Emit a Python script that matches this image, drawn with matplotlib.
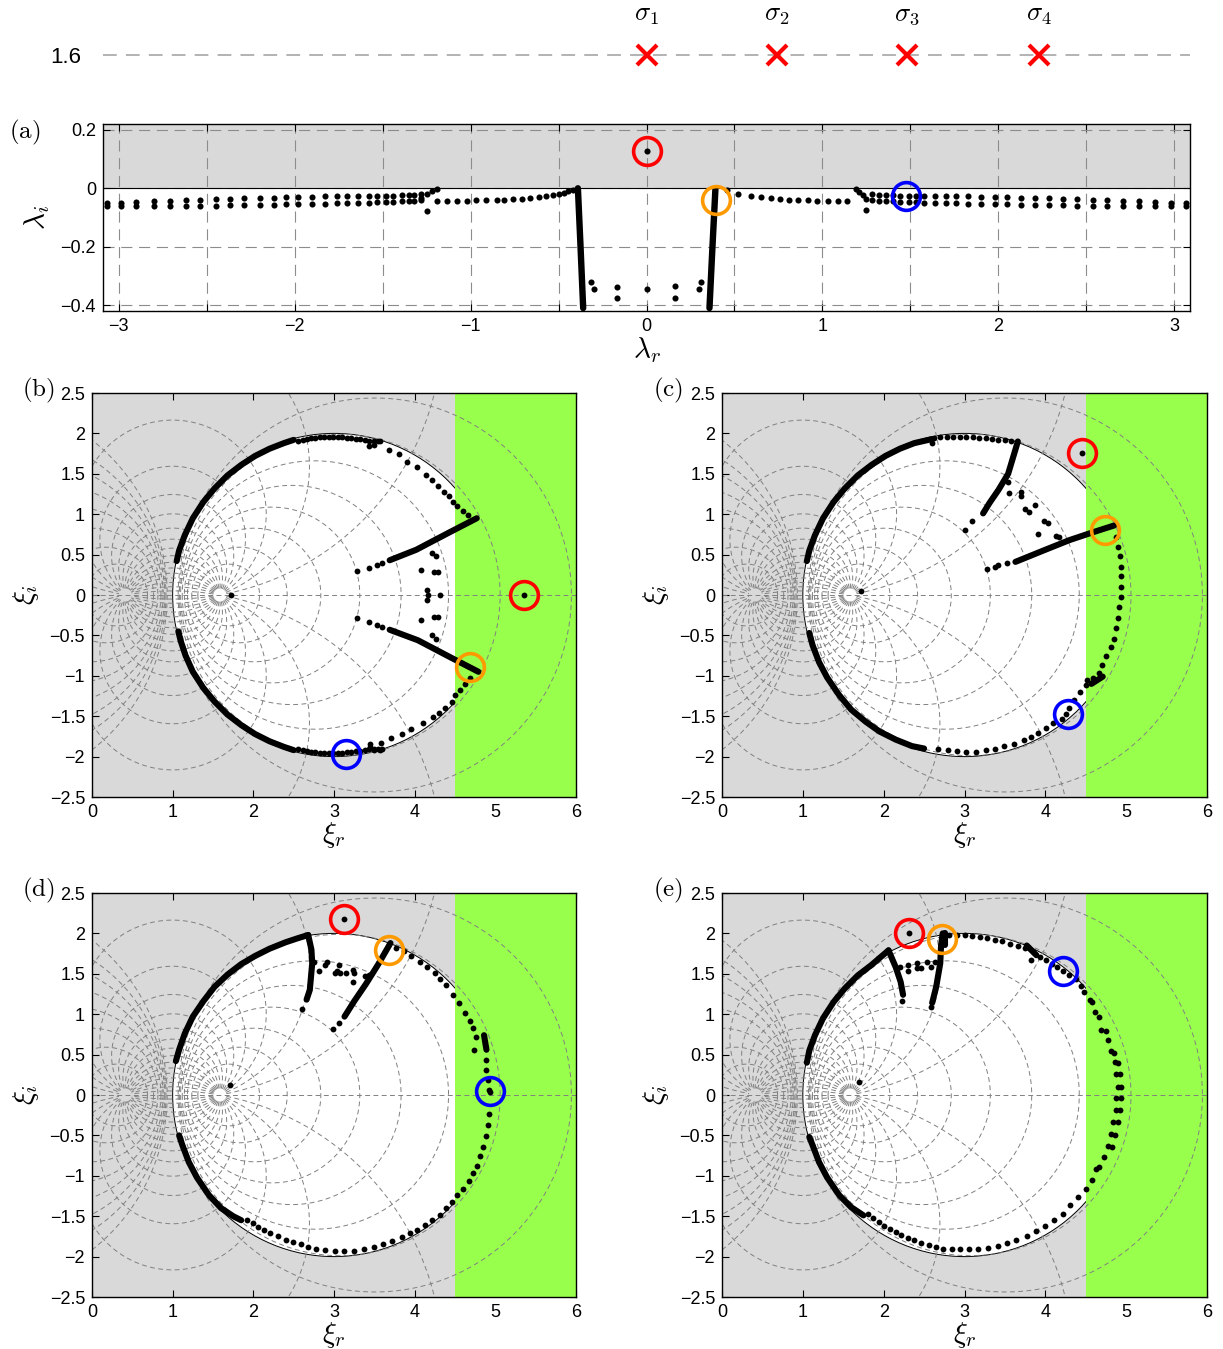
import numpy as np
import matplotlib
matplotlib.use("Agg")
import matplotlib.pyplot as plt
from matplotlib.patches import Circle, Rectangle

plt.rcParams['mathtext.fontset'] = 'cm'
plt.rcParams['font.family'] = ['Liberation Sans', 'DejaVu Sans']

# ---------------- data ----------------
sigma_r = [0.0, 0.74, 1.48, 2.23]
sigma_names = [r'$\sigma_1$', r'$\sigma_2$', r'$\sigma_3$', r'$\sigma_4$']
sigma_level = 1.6

# panel (a): spectrum lambda = lambda_r + i lambda_i
a_cols_left = [-3.07, -2.99, -2.90, -2.80, -2.71, -2.62, -2.54, -2.45, -2.37, -2.29, -2.20, -2.12, -2.05, -1.98,
               -1.90, -1.83, -1.76, -1.70, -1.64, -1.58, -1.53, -1.48, -1.44, -1.39, -1.35, -1.32, -1.28]
a_cols_right = [3.07, 2.98, 2.89, 2.80, 2.71, 2.62, 2.54, 2.45, 2.37, 2.29, 2.21, 2.13, 2.05, 1.98,
                1.90, 1.83, 1.76, 1.70, 1.64, 1.58, 1.53, 1.49, 1.44, 1.40, 1.36, 1.32, 1.28]
a_upper = [-0.050, -0.049, -0.047, -0.045, -0.043, -0.041, -0.039, -0.037, -0.035, -0.034, -0.033, -0.032, -0.031,
           -0.030, -0.029, -0.028, -0.028, -0.027, -0.027, -0.026, -0.026, -0.025, -0.025, -0.024, -0.023, -0.022, -0.020]
a_lower = [-0.060, -0.061, -0.061, -0.061, -0.061, -0.060, -0.060, -0.059, -0.058, -0.057, -0.057, -0.056, -0.055,
           -0.055, -0.054, -0.053, -0.052, -0.051, -0.050, -0.049, -0.048, -0.047, -0.046, -0.045, -0.044, -0.042, -0.040]
a_single = [(-1.19, -0.044), (-1.135, -0.044), (-1.08, -0.044), (-1.02, -0.042), (-0.97, -0.041), (-0.91, -0.041),
            (-0.85, -0.040), (-0.81, -0.039), (-0.76, -0.038), (-0.71, -0.036), (-0.66, -0.033), (-0.61, -0.030),
            (-0.57, -0.026), (-0.53, -0.023), (-0.50, -0.020), (-0.47, -0.016), (-0.445, -0.011), (-0.42, -0.007),
            (0.46, -0.007), (0.52, -0.020), (0.595, -0.026), (0.65, -0.029), (0.71, -0.033), (0.76, -0.037),
            (0.81, -0.039), (0.86, -0.040), (0.92, -0.041), (0.97, -0.042), (1.03, -0.043), (1.09, -0.044),
            (1.14, -0.043),
            (-1.28, -0.034), (-1.25, -0.020), (-1.22, -0.010), (-1.19, -0.001), (-1.25, -0.078),
            (1.19, -0.001), (1.21, -0.012), (1.23, -0.024), (1.25, -0.036), (1.25, -0.075),
            (-0.315, -0.322), (-0.30, -0.345), (-0.165, -0.338), (-0.165, -0.376), (0.0, -0.343),
            (0.161, -0.336), (0.161, -0.374), (0.297, -0.344), (0.312, -0.322), (0.0, 0.128)]
a_thick = [([-0.39, -0.375, -0.36], [0.0, -0.2, -0.41]),
           ([0.392, 0.375, 0.358], [0.0, -0.2, -0.41])]
a_red, a_orange, a_blue = (0.0, 0.128), (0.396, -0.040), (1.477, -0.025)

# panel (b)
b_thick = [([1.05, 1.08, 1.15, 1.25, 1.38, 1.52, 1.68, 1.85, 2.02, 2.20, 2.38, 2.50],
            [0.42, 0.55, 0.74, 0.95, 1.15, 1.32, 1.48, 1.61, 1.72, 1.81, 1.88, 1.92]),
           ([1.07, 1.10, 1.16, 1.25, 1.38, 1.52, 1.68, 1.85, 2.02, 2.20, 2.38, 2.50],
            [-0.45, -0.57, -0.75, -0.95, -1.15, -1.32, -1.48, -1.61, -1.72, -1.81, -1.88, -1.92]),
           ([4.77, 4.44, 4.02, 3.69], [0.95, 0.78, 0.56, 0.43]),
           ([4.79, 4.46, 4.04, 3.69], [-0.95, -0.78, -0.56, -0.43])]
b_dots = [(2.55, 1.91), (2.61, 1.92), (2.66, 1.93), (2.72, 1.94), (2.77, 1.94), (2.83, 1.95), (2.88, 1.95),
          (2.94, 1.95), (2.99, 1.95), (3.05, 1.95), (3.10, 1.95), (3.16, 1.94), (3.21, 1.94), (3.27, 1.93),
          (3.32, 1.93), (3.38, 1.92), (3.43, 1.91), (3.49, 1.91), (3.54, 1.91),
          (3.44, 1.84), (3.50, 1.86), (3.57, 1.90),
          (3.68, 1.80), (3.80, 1.74), (3.91, 1.65), (4.03, 1.58), (4.14, 1.49), (4.21, 1.42), (4.29, 1.35),
          (4.36, 1.28), (4.42, 1.22), (4.47, 1.15), (4.53, 1.10), (4.60, 1.04), (4.66, 0.99),
          (3.60, 0.40), (3.53, 0.37), (3.44, 0.33), (3.28, 0.30),
          (4.22, 0.52), (4.26, 0.48), (4.08, 0.31), (4.24, 0.28), (4.29, 0.28), (4.15, 0.06), (4.17, 0.0),
          (4.15, -0.06), (4.31, 0.0), (4.08, -0.31), (4.24, -0.27), (4.29, -0.27), (4.22, -0.50), (4.26, -0.54),
          (3.60, -0.40), (3.53, -0.37), (3.44, -0.33), (3.28, -0.29),
          (4.68, -1.03), (4.62, -1.10), (4.56, -1.17), (4.50, -1.24), (4.46, -1.32), (4.38, -1.40), (4.30, -1.46),
          (4.23, -1.51), (4.10, -1.58), (3.96, -1.66), (3.84, -1.72), (3.71, -1.77), (3.58, -1.83), (3.45, -1.88),
          (2.55, -1.91), (2.61, -1.92), (2.66, -1.93), (2.72, -1.94), (2.77, -1.94), (2.83, -1.95), (2.88, -1.95),
          (2.94, -1.95), (2.99, -1.95), (3.05, -1.95), (3.10, -1.95), (3.16, -1.94), (3.21, -1.94), (3.27, -1.93),
          (3.32, -1.93), (3.38, -1.92), (3.43, -1.91), (3.49, -1.91), (3.54, -1.91),
          (3.45, -1.84), (3.50, -1.92), (3.57, -1.92), (3.60, -1.91),
          (1.72, 0.0), (5.35, 0.0)]
b_red, b_orange, b_blue = (5.35, 0.0), (4.68, -0.89), (3.15, -1.97)

# panel (c)
c_thick = [([1.05, 1.08, 1.15, 1.25, 1.38, 1.52, 1.68, 1.85, 2.02, 2.20, 2.38, 2.60],
            [0.42, 0.55, 0.74, 0.95, 1.15, 1.32, 1.48, 1.61, 1.72, 1.81, 1.88, 1.93]),
           ([3.66, 3.60, 3.54, 3.42, 3.31, 3.23], [1.90, 1.70, 1.50, 1.30, 1.14, 1.01]),
           ([4.85, 4.60, 4.30, 4.00, 3.63], [0.86, 0.78, 0.68, 0.56, 0.41]),
           ([4.71, 4.57], [-1.01, -1.10]),
           ([1.08, 1.12, 1.20, 1.30, 1.45, 1.60, 1.78, 1.95, 2.15, 2.35, 2.50],
            [-0.47, -0.62, -0.83, -1.02, -1.24, -1.42, -1.57, -1.69, -1.79, -1.87, -1.90])]
c_dots = [(2.62, 1.94), (2.70, 1.95), (2.78, 1.95), (2.86, 1.95), (2.94, 1.95), (3.02, 1.95), (3.10, 1.95),
          (3.18, 1.94), (3.26, 1.94), (3.34, 1.93), (3.42, 1.92), (3.50, 1.92), (3.58, 1.91), (2.60, 1.88),
          (3.09, 0.91), (3.00, 0.81),
          (3.54, 1.40), (3.55, 1.26), (3.70, 1.28), (3.70, 1.22), (3.75, 1.07), (3.80, 1.03), (3.87, 1.12),
          (3.98, 0.91), (4.03, 0.89), (3.91, 0.76), (4.13, 0.73), (4.17, 0.72),
          (3.52, 0.40), (3.42, 0.37), (3.38, 0.35), (3.28, 0.32),
          (4.88, 0.72), (4.90, 0.60), (4.92, 0.48), (4.93, 0.35), (4.93, 0.23), (4.93, 0.10), (4.93, -0.02),
          (4.91, -0.15), (4.90, -0.28), (4.88, -0.41), (4.85, -0.54), (4.81, -0.64), (4.75, -0.76), (4.70, -0.87),
          (4.66, -0.97), (4.59, -1.03), (4.52, -1.05),
          (4.50, -1.12), (4.43, -1.20), (4.36, -1.30), (4.29, -1.40), (4.25, -1.47), (4.20, -1.53), (4.10, -1.59),
          (4.01, -1.65), (3.91, -1.71), (3.82, -1.76), (3.73, -1.80), (3.61, -1.84), (3.49, -1.87), (3.38, -1.90),
          (3.26, -1.92), (3.14, -1.94), (3.02, -1.94), (2.91, -1.93), (2.79, -1.92), (2.67, -1.90),
          (1.72, 0.05), (4.45, 1.76)]
c_red, c_orange, c_blue = (4.45, 1.76), (4.74, 0.81), (4.28, -1.47)

# panel (d)
d_thick = [([1.04, 1.08, 1.15, 1.25, 1.38, 1.52, 1.68, 1.85, 2.02, 2.20, 2.40, 2.55, 2.68],
            [0.42, 0.56, 0.76, 0.97, 1.16, 1.34, 1.49, 1.62, 1.72, 1.81, 1.89, 1.94, 1.98]),
           ([2.68, 2.72, 2.73, 2.70, 2.66], [1.98, 1.80, 1.63, 1.30, 1.18]),
           ([3.70, 3.55, 3.40, 3.25, 3.13], [1.88, 1.62, 1.38, 1.16, 0.97]),
           ([4.86, 4.89], [0.74, 0.56]),
           ([1.08, 1.12, 1.20, 1.30, 1.45, 1.60, 1.75, 1.85], [-0.50, -0.62, -0.83, -1.02, -1.24, -1.40, -1.50, -1.55])]
d_dots = [(2.60, 1.07), (3.06, 0.89), (2.99, 0.82),
          (2.75, 1.65), (2.89, 1.61), (2.91, 1.65), (3.06, 1.61), (3.04, 1.53), (2.82, 1.53), (3.01, 1.51),
          (3.08, 1.51), (3.15, 1.51), (3.23, 1.55), (3.25, 1.51), (3.23, 1.40), (3.39, 1.47), (3.44, 1.49),
          (3.77, 1.82), (3.87, 1.78), (3.96, 1.72), (4.06, 1.65), (4.15, 1.59), (4.25, 1.51), (4.32, 1.43),
          (4.39, 1.36), (4.48, 1.24), (4.55, 1.14), (4.63, 1.01), (4.69, 0.91), (4.72, 0.83), (4.76, 0.72),
          (4.74, 0.56), (4.89, 0.43), (4.89, 0.31), (4.91, 0.19), (4.92, 0.06), (4.93, 0.04), (4.92, -0.23),
          (4.91, -0.37), (4.88, -0.51), (4.85, -0.64), (4.81, -0.76), (4.77, -0.88), (4.72, -0.97), (4.67, -1.07),
          (4.60, -1.16), (4.53, -1.24), (4.46, -1.32), (4.39, -1.40), (4.31, -1.49), (4.22, -1.55), (4.13, -1.61),
          (4.03, -1.67), (3.94, -1.71), (3.84, -1.76), (3.72, -1.81), (3.61, -1.85), (3.49, -1.88), (3.37, -1.91),
          (3.25, -1.93), (3.13, -1.93), (3.01, -1.93), (2.89, -1.92), (2.78, -1.90), (2.68, -1.88), (2.59, -1.85),
          (2.49, -1.82), (2.40, -1.79), (2.30, -1.75), (2.21, -1.71), (2.13, -1.67), (2.06, -1.63), (1.99, -1.59),
          (1.92, -1.55),
          (1.71, 0.12), (3.13, 2.18)]
d_red, d_orange, d_blue = (3.13, 2.18), (3.68, 1.80), (4.93, 0.05)

# panel (e)
e_thick = [([1.05, 1.08, 1.15, 1.25, 1.38, 1.52, 1.68, 1.85, 2.06],
            [0.40, 0.55, 0.74, 0.95, 1.15, 1.32, 1.48, 1.61, 1.79]),
           ([2.06, 2.15, 2.21, 2.24], [1.79, 1.58, 1.40, 1.24]),
           ([2.73, 2.71, 2.70, 2.65, 2.60], [2.00, 1.85, 1.63, 1.34, 1.14]),
           ([2.76, 2.76], [2.00, 1.86]),
           ([3.77, 3.89], [1.85, 1.73]),
           ([1.08, 1.12, 1.20, 1.30, 1.45, 1.60, 1.75], [-0.52, -0.62, -0.83, -1.02, -1.24, -1.39, -1.49])]
e_dots = [(2.23, 1.16), (2.58, 1.09),
          (2.20, 1.58), (2.30, 1.53), (2.30, 1.61), (2.41, 1.63), (2.41, 1.57), (2.46, 1.57), (2.53, 1.65),
          (2.58, 1.58), (2.63, 1.65),
          (2.81, 1.98), (2.91, 1.98), (3.00, 1.98), (3.09, 1.97), (3.19, 1.96), (3.28, 1.94), (3.38, 1.92),
          (3.47, 1.90), (3.56, 1.87), (3.66, 1.85), (3.75, 1.82), (3.82, 1.67),
          (3.94, 1.71), (4.01, 1.67), (4.08, 1.62), (4.15, 1.58), (4.22, 1.53), (4.29, 1.49), (4.38, 1.43),
          (4.44, 1.35), (4.48, 1.28), (4.55, 1.18), (4.58, 1.15), (4.61, 1.03), (4.66, 0.96), (4.69, 0.81),
          (4.75, 0.79), (4.77, 0.68), (4.81, 0.54), (4.85, 0.52), (4.86, 0.41), (4.90, 0.40), (4.88, 0.26),
          (4.92, 0.26), (4.90, 0.10), (4.94, 0.10), (4.88, -0.04), (4.94, -0.04), (4.88, -0.19), (4.92, -0.19),
          (4.84, -0.34), (4.90, -0.34), (4.81, -0.48), (4.86, -0.50), (4.77, -0.63), (4.82, -0.64), (4.73, -0.77),
          (4.66, -0.89), (4.63, -0.92), (4.58, -1.05), (4.50, -1.16), (4.41, -1.26), (4.31, -1.36), (4.22, -1.47),
          (4.11, -1.55), (4.00, -1.62), (3.89, -1.68), (3.77, -1.74), (3.64, -1.79), (3.53, -1.83), (3.41, -1.87),
          (3.29, -1.89), (3.17, -1.91), (3.06, -1.91), (2.95, -1.91), (2.85, -1.91), (2.74, -1.90), (2.65, -1.88),
          (2.56, -1.86), (2.46, -1.83), (2.38, -1.80), (2.30, -1.77), (2.22, -1.73), (2.15, -1.69), (2.08, -1.66),
          (2.01, -1.62), (1.94, -1.57), (1.87, -1.52), (1.80, -1.47),
          (1.69, 0.165), (2.31, 2.00)]
e_red, e_orange, e_blue = (2.31, 2.00), (2.72, 1.93), (4.22, 1.53)

# ---------------- figure ----------------
W, H = 1223, 1349
fig = plt.figure(figsize=(W / 100, H / 100), dpi=100)


def rect(l, t, r, b):
    return [l / W, 1 - b / H, (r - l) / W, (b - t) / H]


GREY = '#d9d9d9'
GREEN = '#99ff4d'
RING = dict(marker='o', ms=20, mfc='none', mew=2.6, ls='none', zorder=8)


def minus(s):
    return s.replace('-', '\u2212')


def style(ax):
    ax.tick_params(direction='in', top=True, right=True, length=5, width=0.8, labelsize=13, pad=5)
    for s in ax.spines.values():
        s.set_linewidth(1.0)
        s.set_zorder(10)


def draw_points(ax, thick, dots, red, orange, blue, lw=4.4, ms=4.2):
    for xs, ys in thick:
        ax.plot(xs, ys, color='k', lw=lw, solid_capstyle='round', zorder=6)
    dx, dy = zip(*dots)
    ax.plot(dx, dy, 'o', color='k', ms=ms, mew=0, zorder=7)
    ax.plot([red[0]], [red[1]], mec='#ff0000', **RING)
    ax.plot([orange[0]], [orange[1]], mec='#ff9900', **RING)
    ax.plot([blue[0]], [blue[1]], mec='#0000ff', **RING)


# top strip with sigma values
ax0 = fig.add_axes(rect(103, 30, 1190, 80))
ax0.set_xlim(-3.09, 3.09)
ax0.set_ylim(1.5, 1.7)
ax0.axhline(sigma_level, color='0.62', lw=1.1, dashes=(9, 6))
ax0.plot(sigma_r, [sigma_level] * len(sigma_r), 'x', color='#ff0000', ms=14, mew=3)
for x, s in zip(sigma_r, sigma_names):
    ax0.text(x, 1.76, s, fontsize=19, ha='center', va='center')
ax0.set_yticks([sigma_level])
ax0.set_yticklabels(['1.6'])
ax0.set_xticks([])
ax0.tick_params(axis='y', length=0, labelsize=16, pad=16)
for s in ax0.spines.values():
    s.set_visible(False)
ax0.patch.set_alpha(0)

# panel (a)
axa = fig.add_axes(rect(103, 124, 1190, 311))
axa.set_xlim(-3.09, 3.09)
axa.set_ylim(-0.42, 0.22)
axa.axhspan(0, 0.22, color=GREY, lw=0, zorder=0.5)
xt = np.arange(-3, 3.01, 0.5)
axa.set_xticks(xt)
axa.set_xticklabels([minus('%g' % v) if float(v).is_integer() else '' for v in xt])
axa.set_yticks([-0.4, -0.2, 0, 0.2])
axa.set_yticklabels([minus(s) for s in ['-0.4', '-0.2', '0', '0.2']])
axa.grid(True, color='0.55', lw=0.8, dashes=(10, 6))
axa.axhline(0, color='k', lw=0.8, zorder=2)
style(axa)
ax_pts = [(x, y) for x, y in zip(a_cols_left, a_upper)] + [(x, y) for x, y in zip(a_cols_left, a_lower)] \
    + [(x, y) for x, y in zip(a_cols_right, a_upper)] + [(x, y) for x, y in zip(a_cols_right, a_lower)] + a_single
draw_points(axa, a_thick, ax_pts, a_red, a_orange, a_blue, lw=4.6, ms=4.4)
axa.set_xlabel(r'$\lambda_r$', fontsize=21, labelpad=0)
axa.set_ylabel(r'$\lambda_i$', fontsize=21, labelpad=6)

# curvilinear background grid of the xi panels
p_f, q_f = 0.42, 1.58
ratios = [0.3, 0.42, 0.52, 0.6, 0.66, 0.71, 0.75, 0.79]
rays = np.deg2rad(np.arange(10, 180, 10))


def xi_grid(ax):
    kw = dict(color='0.5', lw=0.7, dashes=(5, 3.5), zorder=4)
    t = np.logspace(np.log10(0.07), np.log10(1 / 0.07), 3000)
    for th in np.concatenate([rays, -rays]):
        w = t * np.exp(1j * th)
        z = (q_f + p_f * w) / (1 + w)
        ax.plot(z.real, z.imag, **kw)
    ph = np.linspace(0, 2 * np.pi, 800)
    for r in ratios + [1 / r for r in ratios]:
        w = r * np.exp(1j * ph)
        z = (q_f + p_f * w) / (1 + w)
        ax.plot(z.real, z.imag, **kw)
    ax.axhline(0, **kw)


panels = [
    ((92, 393, 576, 797), 'b', b_thick, b_dots, b_red, b_orange, b_blue),
    ((722, 393, 1207, 797), 'c', c_thick, c_dots, c_red, c_orange, c_blue),
    ((92, 893, 576, 1297), 'd', d_thick, d_dots, d_red, d_orange, d_blue),
    ((722, 893, 1207, 1297), 'e', e_thick, e_dots, e_red, e_orange, e_blue),
]
for box, lab, th, dots, rd, og, bl in panels:
    ax = fig.add_axes(rect(*box))
    ax.set_facecolor(GREY)
    ax.set_xlim(0, 6)
    ax.set_ylim(-2.5, 2.5)
    ax.add_patch(Circle((3, 0), 2, facecolor='white', edgecolor='none', zorder=1))
    ax.add_patch(Circle((3, 0), 2, facecolor='none', edgecolor='k', lw=0.7, zorder=2))
    ax.add_patch(Rectangle((4.5, -2.5), 1.5, 5, facecolor=GREEN, edgecolor='none', zorder=3))
    xi_grid(ax)
    ax.set_xticks(range(7))
    yt = np.arange(-2.5, 2.51, 0.5)
    ax.set_yticks(yt)
    ax.set_yticklabels([minus('%g' % v) for v in yt])
    style(ax)
    draw_points(ax, th, dots, rd, og, bl)
    ax.set_xlabel(r'$\xi_r$', fontsize=21, labelpad=-1)
    ax.set_ylabel(r'$\xi_i$', fontsize=21, labelpad=6)
    fig.text((box[0] - 54) / W, 1 - (box[1] - 3) / H, r'$\mathrm{(%s)}$' % lab, fontsize=18,
             ha='center', va='center')

fig.text(25 / W, 1 - 132 / H, r'$\mathrm{(a)}$', fontsize=18, ha='center', va='center')

fig.savefig('out.png', dpi=100)
